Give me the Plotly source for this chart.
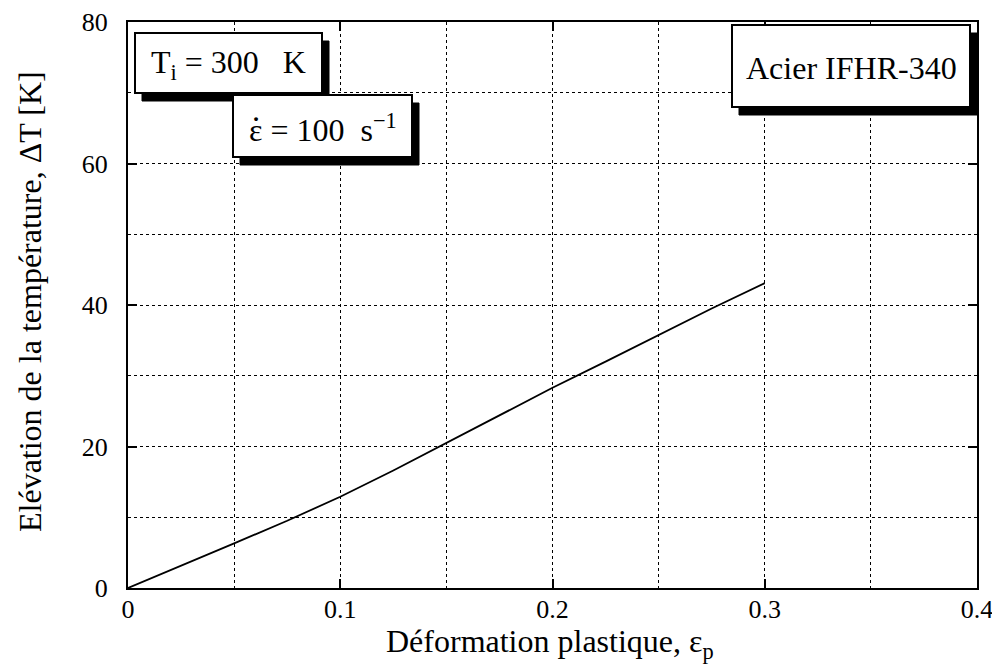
import plotly.graph_objects as go

# Data
strain = [0, 0.025, 0.05, 0.075, 0.1, 0.125, 0.15, 0.175, 0.2, 0.225, 0.25, 0.275, 0.3]
delta_T = [0, 3.1, 6.3, 9.5, 12.9, 16.6, 20.5, 24.4, 28.3, 32.0, 35.8, 39.5, 43.1]

x_tickvals = [0, 0.1, 0.2, 0.3, 0.4]
x_ticktext = ["0", "0.1", "0.2", "0.3", "0.4"]
y_tickvals = [0, 20, 40, 60, 80]
y_ticktext = ["0", "20", "40", "60", "80"]

box_texts = ["T<sub>i</sub> = 300   K", "ε = 100  s<sup>−1</sup>", "Acier IFHR-340"]
x_title = "Déformation plastique, ε<sub>p</sub>"
y_title = "Elévation de la température, ΔT [K]"

FONT = "Liberation Serif"
OFF = 8  # page body margin
W, H = 992, 661
# plot area in page pixels: left 128, right 977, top 22, bottom 588
L, R, T, B = 128 - OFF, W - (977 - OFF), 22 - OFF, H - (588 - OFF)
pw, ph = W - L - R, H - T - B

def px2paper(x, y):
    # page pixel -> paper coords
    return (x - OFF - L) / pw, (H - B - (y - OFF)) / ph

fig = go.Figure()
fig.add_trace(go.Scatter(x=strain, y=delta_T, mode="lines",
                         line=dict(color="black", width=1.8), showlegend=False))

axis_common = dict(showline=True, linecolor="black", linewidth=2, mirror="ticks",
                   ticks="inside", ticklen=9, tickwidth=1.5, tickcolor="black",
                   showgrid=True, gridcolor="black", griddash="dot", gridwidth=1,
                   zeroline=False, automargin=False, ticklabeloverflow="allow",
                   tickfont=dict(family=FONT, size=26, color="black"))

fig.update_xaxes(range=[0, 0.4], tickvals=x_tickvals, ticktext=x_ticktext,
                 minor=dict(dtick=0.05, showgrid=True, gridcolor="black", griddash="dot", gridwidth=1, ticks=""),
                 ticklabelstandoff=-3, **axis_common)
fig.update_yaxes(range=[0, 80], tickvals=y_tickvals, ticktext=y_ticktext,
                 minor=dict(dtick=10, showgrid=True, gridcolor="black", griddash="dot", gridwidth=1, ticks=""),
                 ticklabelstandoff=13, **axis_common)

# boxes in page pixel coordinates: (x0, y0, x1, y1)
boxes = [(135, 33, 322, 93), (233, 95, 412, 157), (732, 25, 970, 107)]
shapes = []
annotations = []
for (x0, y0, x1, y1), txt in zip(boxes, box_texts):
    sx0, sy0 = px2paper(x0 + 7, y1 + 8)
    sx1, sy1 = px2paper(x1 + 7, y0 + 8)
    shapes.append(dict(type="rect", xref="paper", yref="paper", x0=sx0, x1=sx1, y0=sy0, y1=sy1,
                       fillcolor="black", line=dict(color="black", width=1), layer="above"))
    bx0, by0 = px2paper(x0, y1)
    bx1, by1 = px2paper(x1, y0)
    shapes.append(dict(type="rect", xref="paper", yref="paper", x0=bx0, x1=bx1, y0=by0, y1=by1,
                       fillcolor="white", line=dict(color="black", width=2), layer="above"))
    cx, cy = px2paper((x0 + x1) / 2, (y0 + y1) / 2 + 2)
    annotations.append(dict(x=cx, y=cy, xref="paper", yref="paper", text=txt, showarrow=False,
                            font=dict(family=FONT, size=32, color="black"),
                            xanchor="center", yanchor="middle"))

# dot over epsilon (strain rate)
dx, dy = px2paper(256, 129)
annotations.append(dict(x=dx, y=dy, xref="paper", yref="paper", text="˙", showarrow=False,
                        font=dict(family=FONT, size=36, color="black"), xanchor="center", yanchor="middle"))

# axis titles
tx, ty = px2paper(550, 643)
annotations.append(dict(x=tx, y=ty, xref="paper", yref="paper", text=x_title, showarrow=False,
                        font=dict(family=FONT, size=32, color="black"), xanchor="center", yanchor="middle"))
tx, ty = px2paper(30, 302)
annotations.append(dict(x=tx, y=ty, xref="paper", yref="paper", text=y_title, showarrow=False, textangle=-90,
                        font=dict(family=FONT, size=32, color="black"), xanchor="center", yanchor="middle"))

fig.update_layout(width=W, height=H, margin=dict(l=L, r=R, t=T, b=B),
                  plot_bgcolor="white", paper_bgcolor="white",
                  shapes=shapes, annotations=annotations)

fig.write_html("out.html")
